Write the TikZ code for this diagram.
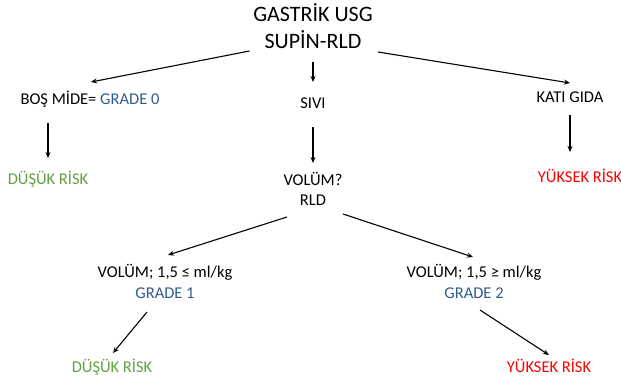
\documentclass[tikz,border=0pt]{standalone}
\usepackage{fontspec}
\setmainfont{Carlito}
\usetikzlibrary{arrows.meta}
\definecolor{gradeblue}{HTML}{2F5C8F}
\definecolor{lowgreen}{HTML}{62A043}
\definecolor{highred}{HTML}{FF0000}
\begin{document}
\begin{tikzpicture}[x=1pt,y=-1pt,>={Stealth[length=6pt,width=5pt]},
 txt/.style={anchor=base,inner sep=0pt,align=center,font=\fontsize{16.5}{21}\selectfont},
 low/.style={txt,text=lowgreen},
 high/.style={txt,text=highred},
 arr/.style={->,line width=1.1pt}]
\useasboundingbox (0,0) rectangle (621,380);
% top level
\node[txt,font=\fontsize{22}{26.5}\selectfont] (title) at (313,48) {GASTRİK USG\\SUPİN-RLD};
\node[txt] (bos) at (90,104) {BOŞ MİDE= \textcolor{gradeblue}{GRADE 0}};
\node[txt] (sivi) at (313,108) {SIVI};
\node[txt] (kati) at (570,102) {KATI GIDA};
% second level
\node[low] (dus1) at (48,184) {DÜŞÜK RİSK};
\node[txt,font=\fontsize{16.5}{20}\selectfont] (vol) at (313,205) {VOLÜM?\\RLD};
\node[high] (yuk1) at (580,182) {YÜKSEK RİSK};
% volume branches
\node[txt] (v1) at (165,298) {VOLÜM; 1,5 ≤ ml/kg\\\textcolor{gradeblue}{GRADE 1}};
\node[txt] (v2) at (474,298) {VOLÜM; 1,5 ≥ ml/kg\\\textcolor{gradeblue}{GRADE 2}};
\node[low] (dus2) at (112,372) {DÜŞÜK RİSK};
\node[high] (yuk2) at (549,372) {YÜKSEK RİSK};
% arrows
\draw[arr] ([shift={(-63.5,3)}]title.base) -- ([shift={(1,-22)}]bos.base);
\draw[arr] ([shift={(0,14)}]title.base) -- ([shift={(0,-26)}]sivi.base);
\draw[arr] ([shift={(65,4)}]title.base) -- ([shift={(0,-19)}]kati.base);
\draw[arr] ([shift={(-42,19)}]bos.base) -- ([shift={(0,-26)}]dus1.base);
\draw[arr] ([shift={(0,19)}]sivi.base) -- ([shift={(0,-42)}]vol.base);
\draw[arr] ([shift={(0,13)}]kati.base) -- ([shift={(-10,-30)}]yuk1.base);
\draw[arr] ([shift={(-26,12)}]vol.base) -- ([shift={(3,-43)}]v1.base);
\draw[arr] ([shift={(30,9)}]vol.base) -- ([shift={(-1,-41)}]v2.base);
\draw[arr] ([shift={(-18,14)}]v1.base) -- ([shift={(1,-19)}]dus2.base);
\draw[arr] ([shift={(6,12)}]v2.base) -- ([shift={(0,-17)}]yuk2.base);
\end{tikzpicture}
\end{document}
